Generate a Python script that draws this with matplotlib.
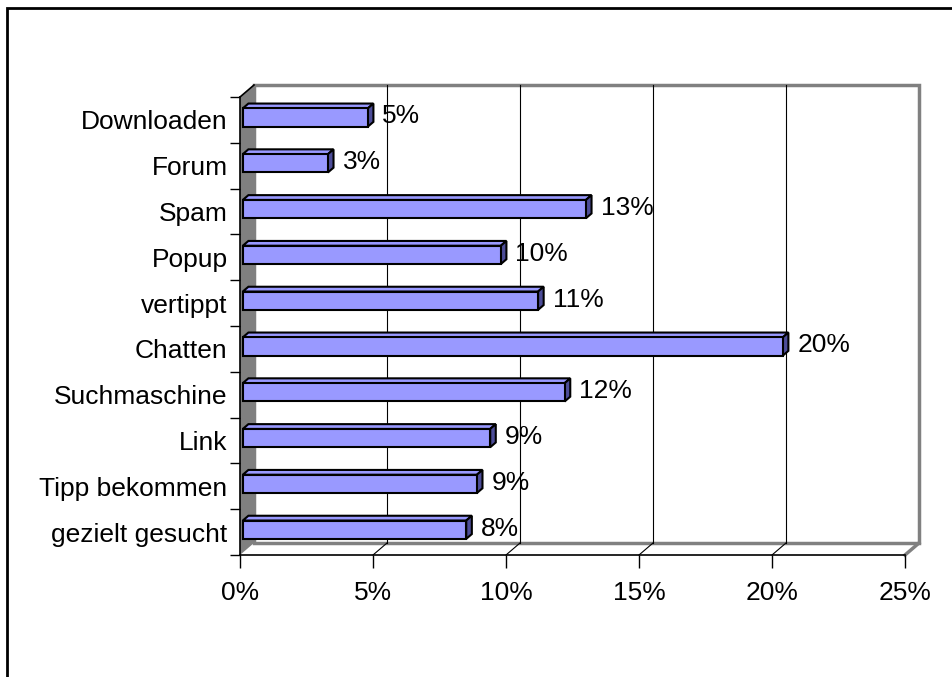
import matplotlib
matplotlib.use("Agg")
import matplotlib.pyplot as plt
import numpy as np
from matplotlib.patches import Polygon, Rectangle

plt.rcParams["font.family"] = ["Liberation Sans", "DejaVu Sans"]
plt.rcParams["font.size"] = 19

# bottom -> top, as drawn
categories = [
    "gezielt gesucht", "Tipp bekommen", "Link", "Suchmaschine", "Chatten",
    "vertippt", "Popup", "Spam", "Forum", "Downloaden",
]
shares = [8.4, 8.8, 9.3, 12.1, 20.3, 11.1, 9.7, 12.9, 3.2, 4.7]
x_ticks = [0, 5, 10, 15, 20, 25]

BAR_FACE = "#9999FF"
BAR_SIDE = "#4D4D99"
WALL = "#808080"

fig = plt.figure(figsize=(9.52, 6.77), dpi=100)
ax = fig.add_axes([240 / 952, 122 / 677, 665 / 952, 458 / 677])
ax.set_xlim(0, 25)
ax.set_ylim(-0.5, 9.5)
ax.patch.set_visible(False)

# depth of the fake 3d box, converted from pixels into data units
px_x = ax.bbox.width / 25
px_y = ax.bbox.height / 10
DX = 14 / px_x
DY = 12 / px_y

# back wall + gridlines
ax.add_patch(Rectangle((DX, -0.5 + DY), 25, 10, facecolor="white", edgecolor=WALL,
                       lw=2.5, clip_on=False, zorder=0))
for t in x_ticks[1:-1]:
    ax.plot([t + DX, t + DX], [-0.5 + DY, 9.5 + DY], color="black", lw=0.8, clip_on=False, zorder=1)
    ax.plot([t, t + DX], [-0.5, -0.5 + DY], color="black", lw=0.8, clip_on=False, zorder=1)
ax.plot([25, 25 + DX], [-0.5, -0.5 + DY], color=WALL, lw=2.5, clip_on=False, zorder=1)

# left wall
ax.add_patch(Polygon([(0, -0.5), (DX, -0.5 + DY), (DX, 9.5 + DY), (0, 9.5)],
                     closed=True, facecolor=WALL, edgecolor="none", clip_on=False, zorder=1))
ax.plot([0, DX], [9.5, 9.5 + DY], color="black", lw=1.2, clip_on=False, zorder=2)

# bars
front, back = 0.2, 0.6
h = 0.4
ypos = np.arange(len(categories))
ax.barh(ypos + front * DY, shares, left=front * DX, height=h, color=BAR_FACE,
        edgecolor="black", lw=1.5, zorder=4)
for y, v in zip(ypos, shares):
    x0f, y0f = front * DX, y + front * DY
    x0b, y0b = back * DX, y + back * DY
    top = [(x0f, y0f + h / 2), (x0f + v, y0f + h / 2), (x0b + v, y0b + h / 2), (x0b, y0b + h / 2)]
    side = [(x0f + v, y0f - h / 2), (x0b + v, y0b - h / 2), (x0b + v, y0b + h / 2), (x0f + v, y0f + h / 2)]
    ax.add_patch(Polygon(top, closed=True, facecolor=BAR_FACE, edgecolor="black", lw=1.5, zorder=3))
    ax.add_patch(Polygon(side, closed=True, facecolor=BAR_SIDE, edgecolor="black", lw=1.5, zorder=3))
    ax.annotate(f"{v:.0f}%", (x0b + v, y + front * DY), xytext=(9, 1), textcoords="offset pixels",
                ha="left", va="center", zorder=5)

# axes
for side in ("top", "right"):
    ax.spines[side].set_visible(False)
for side in ("left", "bottom"):
    ax.spines[side].set_color("black")
    ax.spines[side].set_linewidth(1.2)
    ax.spines[side].set_zorder(6)

ax.set_yticks(ypos)
ax.set_yticklabels(categories)
ax.set_yticks(np.arange(-0.5, 10, 1), minor=True)
ax.tick_params(axis="y", which="major", length=0, pad=9)
ax.tick_params(axis="y", which="minor", length=7, width=1, direction="out")
ax.set_xticks(x_ticks)
ax.set_xticklabels([f"{t}%" for t in x_ticks])
ax.tick_params(axis="x", length=9, width=1, direction="out", pad=10)

# outer chart frame (runs off the right and bottom of the image)
fig.add_artist(Rectangle((7 / 952, -0.1), 1.2, 1.1 - 8 / 677, transform=fig.transFigure,
                         fill=False, edgecolor="black", lw=2))

fig.savefig("out.png", dpi=100)
